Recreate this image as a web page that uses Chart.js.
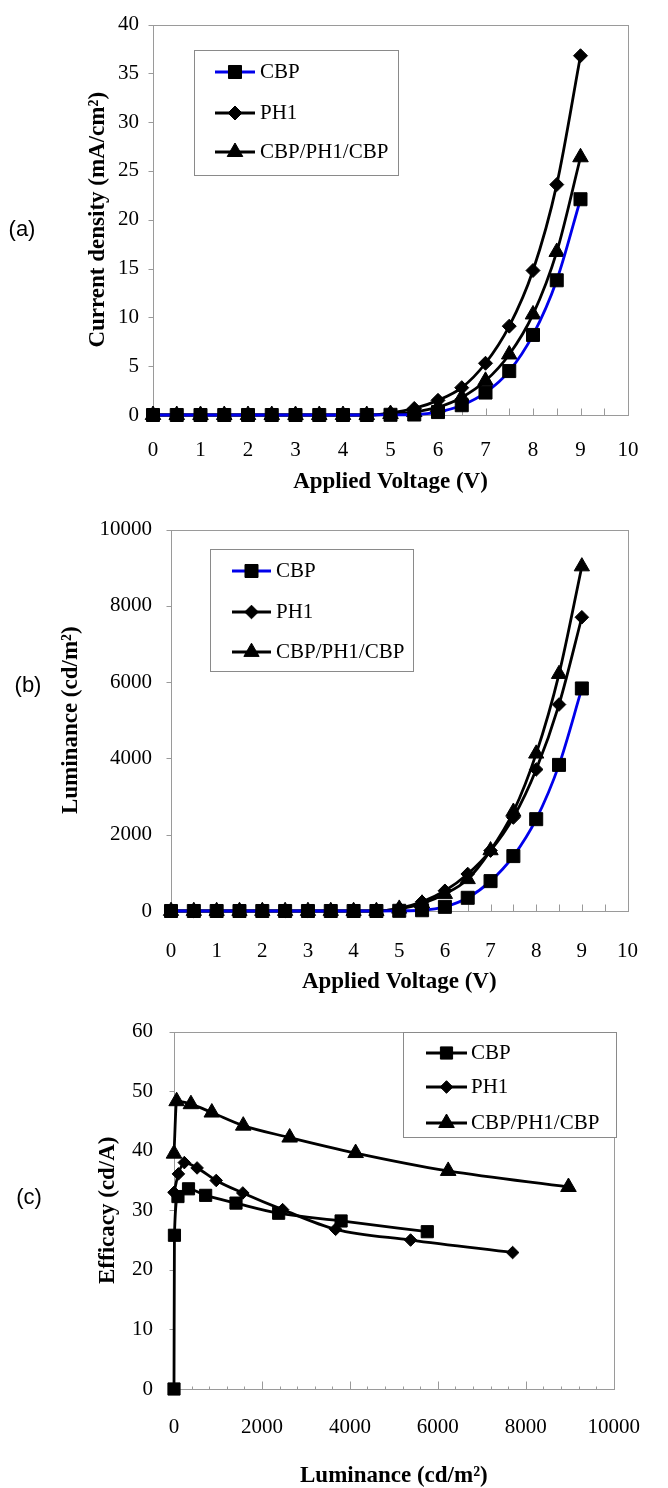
<!DOCTYPE html>
<html lang="en">
<head>
<meta charset="UTF-8">
<title>CBP / PH1 device characteristics</title>
<script src="https://cdn.jsdelivr.net/npm/chart.js@4.4.0/dist/chart.umd.min.js"></script>
<style>
  body { margin: 0; background: #fff; }
  #page { position: relative; width: 668px; height: 1488px; overflow: hidden; background: #fff; }
  .panel { position: absolute; left: 0; }
  .tag { position: absolute; font-family: 'Liberation Sans', Arial, sans-serif; font-size: 22px; color: #000;
         transform: translate(-50%, -50%); }
</style>
</head>
<body>
<div id="page">
  <canvas class="panel" id="chartA" width="668" height="500" style="top:0"></canvas>
  <canvas class="panel" id="chartB" width="668" height="500" style="top:500px"></canvas>
  <canvas class="panel" id="chartC" width="668" height="488" style="top:1000px"></canvas>
  <div class="tag" style="left:22px;top:229px">(a)</div>
  <div class="tag" style="left:28px;top:685px">(b)</div>
  <div class="tag" style="left:29px;top:1197px">(c)</div>
</div>

<script>
// applied voltage (V), shared by panels (a) and (b)
const voltage = [0, 0.5, 1, 1.5, 2, 2.5, 3, 3.5, 4, 4.5, 5, 5.5, 6, 6.5, 7, 7.5, 8, 8.5, 9];

// (a) current density, mA/cm2
const jCBP    = [0, 0, 0, 0, 0, 0, 0, 0, 0, 0, 0.02, 0.05, 0.3, 1.0, 2.3, 4.5, 8.2, 13.8, 22.1];
const jPH1    = [0, 0, 0, 0, 0, 0, 0, 0, 0, 0, 0.2, 0.67, 1.5, 2.8, 5.3, 9.1, 14.8, 23.6, 36.8];
const jStack  = [0, 0, 0, 0, 0, 0, 0, 0, 0, 0, 0.1, 0.3, 0.8, 1.8, 3.5, 6.2, 10.3, 16.7, 26.4];

// (b) luminance, cd/m2
const lCBP    = [0, 0, 0, 0, 0, 0, 0, 0, 0, 0, 5, 20, 109, 346, 783, 1439, 2407, 3830, 5833];
const lPH1    = [0, 0, 0, 0, 0, 0, 0, 0, 0, 0, 70, 240, 530, 970, 1583, 2450, 3710, 5412, 7700];
const lStack  = [0, 0, 0, 0, 0, 0, 0, 0, 0, 0, 60, 195, 446, 833, 1590, 2600, 4124, 6211, 9032];

// (c) efficacy (cd/A) against luminance (cd/m2)
const effCBPLum   = [0, 10, 90, 330, 720, 1410, 2380, 3800, 5760];
const effCBP      = [0, 25.8, 32.3, 33.6, 32.5, 31.2, 29.5, 28.2, 26.4];
const effPH1Lum   = [0, 100, 235, 525, 960, 1565, 2470, 3675, 5380, 7700];
const effPH1      = [33.0, 36.1, 38.0, 37.1, 35.0, 32.9, 30.1, 26.8, 25.0, 22.9];
const effStackLum = [0, 60, 385, 860, 1575, 2630, 4130, 6235, 8970];
const effStack    = [39.5, 48.3, 47.8, 46.4, 44.2, 42.2, 39.6, 36.6, 33.9];

const names = ['CBP', 'PH1', 'CBP/PH1/CBP'];

const SERIF = "'Liberation Serif', 'Times New Roman', serif";
const tickFont = { family: SERIF, size: 21, lineHeight: 1 };
const titleFont = { family: SERIF, size: 23, weight: 'bold', lineHeight: 1 };
const FRAME = '#9a9a9a';

function zip(xs, ys) {
  return xs.map((x, i) => ({ x: x, y: ys[i] }));
}

function series(label, data, style, radius, color) {
  return {
    label: label,
    data: data,
    borderColor: color,
    borderWidth: 2.8,
    pointStyle: style,
    pointRadius: radius,
    pointBackgroundColor: '#000',
    pointBorderColor: '#000',
    pointBorderWidth: 1,
    pointHoverRadius: radius,
    tension: 0.4,
    cubicInterpolationMode: 'monotone',
    fill: false,
    clip: false
  };
}

// fallback in case helpers are not exposed by the build
function marker(ctx, style, r, x, y) {
  if (Chart.helpers && Chart.helpers.drawPoint) {
    Chart.helpers.drawPoint(ctx, { pointStyle: style, radius: r, borderWidth: 1, rotation: 0 }, x, y);
    return;
  }
  ctx.beginPath();
  if (style === 'rect') {
    const s = r * Math.SQRT1_2;
    ctx.rect(x - s, y - s, 2 * s, 2 * s);
  } else if (style === 'rectRot') {
    ctx.moveTo(x, y - r); ctx.lineTo(x + r, y); ctx.lineTo(x, y + r); ctx.lineTo(x - r, y);
  } else {
    ctx.moveTo(x, y - r);
    ctx.lineTo(x + r * 0.866, y + r / 2);
    ctx.lineTo(x - r * 0.866, y + r / 2);
  }
  ctx.closePath();
  ctx.fill();
  ctx.stroke();
}

// plot frame, outward y ticks, inward x ticks
const framePlugin = {
  id: 'frame',
  beforeDatasetsDraw(chart, args, o) {
    const { ctx, chartArea: a, scales } = chart;
    ctx.save();
    ctx.strokeStyle = FRAME;
    ctx.lineWidth = 1;
    const L = Math.round(a.left) + 0.5, R = Math.round(a.right) + 0.5;
    const T = Math.round(a.top) + 0.5, B = Math.round(a.bottom) + 0.5;
    ctx.strokeRect(L, T, R - L, B - T);
    ctx.beginPath();
    scales.y.ticks.forEach(t => {
      const py = Math.round(scales.y.getPixelForValue(t.value)) + 0.5;
      ctx.moveTo(L - 5, py); ctx.lineTo(L, py);
    });
    const n = Math.round((o.xMax - o.xMin) / o.minorStep);
    const every = Math.round(o.majorStep / o.minorStep);
    for (let i = 1; i < n; i++) {
      const px = Math.round(scales.x.getPixelForValue(o.xMin + i * o.minorStep)) + 0.5;
      const len = i % every === 0 ? o.majorLen : o.minorLen;
      ctx.moveTo(px, B); ctx.lineTo(px, B - len);
    }
    ctx.stroke();
    ctx.restore();
  }
};

// boxed legend inside the plot
const legendPlugin = {
  id: 'boxLegend',
  afterDatasetsDraw(chart, args, o) {
    const ctx = chart.ctx;
    ctx.save();
    ctx.fillStyle = '#fff';
    ctx.fillRect(o.x1, o.y1, o.x2 - o.x1, o.y2 - o.y1);
    ctx.strokeStyle = '#8a8a8a';
    ctx.lineWidth = 1;
    ctx.strokeRect(o.x1 + 0.5, o.y1 + 0.5, o.x2 - o.x1, o.y2 - o.y1);
    chart.data.datasets.forEach((ds, i) => {
      const y = o.rows[i];
      ctx.strokeStyle = ds.borderColor;
      ctx.lineWidth = ds.borderWidth;
      ctx.beginPath();
      ctx.moveTo(o.lineFrom, y); ctx.lineTo(o.lineTo, y);
      ctx.stroke();
      ctx.fillStyle = '#000';
      ctx.strokeStyle = '#000';
      ctx.lineWidth = 1;
      marker(ctx, ds.pointStyle, ds.pointRadius, (o.lineFrom + o.lineTo) / 2, y);
      ctx.font = '21px ' + SERIF;
      ctx.textBaseline = 'middle';
      ctx.textAlign = 'left';
      ctx.fillText(ds.label, o.textX, y);
    });
    ctx.restore();
  }
};

function makeChart(id, datasets, c) {
  return new Chart(document.getElementById(id), {
    type: 'line',
    data: { datasets: datasets },
    plugins: [framePlugin, legendPlugin],
    options: {
      responsive: false,
      animation: false,
      events: [],
      layout: { padding: { top: c.top, right: c.right, left: 0, bottom: 0 } },
      scales: {
        x: {
          type: 'linear', min: c.xMin, max: c.xMax,
          grid: { display: false, drawTicks: false },
          border: { display: false },
          ticks: { stepSize: c.xStep, padding: c.xPad, color: '#000', font: tickFont,
                   maxRotation: 0, autoSkip: false, callback: v => String(v) },
          title: { display: true, text: c.xTitle, color: '#000', font: titleFont,
                   padding: { top: 0, bottom: c.xTitlePad } },
          afterFit: s => { s.height = c.xHeight; }
        },
        y: {
          min: c.yMin, max: c.yMax,
          grid: { display: false, drawTicks: false },
          border: { display: false },
          ticks: { stepSize: c.yStep, padding: c.yPad, color: '#000', font: tickFont,
                   callback: v => String(v) },
          title: { display: true, text: c.yTitle, color: '#000', font: titleFont,
                   padding: { top: c.yTitlePad, bottom: 0 } },
          afterFit: s => { s.width = c.yWidth; }
        }
      },
      plugins: {
        legend: { display: false },
        tooltip: { enabled: false },
        frame: c.frame,
        boxLegend: c.legend
      }
    }
  });
}

const BLUE = 'rgb(0, 0, 235)';

makeChart('chartA', [
  series(names[0], zip(voltage, jCBP), 'rect', 9.2, BLUE),
  series(names[1], zip(voltage, jPH1), 'rectRot', 7, '#000'),
  series(names[2], zip(voltage, jStack), 'triangle', 9, '#000')
], {
  top: 16, right: 40, yWidth: 153, xHeight: 85,
  xMin: 0, xMax: 10, xStep: 1, yMin: 0, yMax: 40, yStep: 5,
  xPad: 24.5, yPad: 14, xTitlePad: 6.5, yTitlePad: 86.5,
  xTitle: 'Applied Voltage (V)', yTitle: 'Current density (mA/cm\u00b2)',
  frame: { xMin: 0, xMax: 10, minorStep: 0.5, majorStep: 1, minorLen: 7, majorLen: 7 },
  legend: { x1: 194, y1: 50, x2: 398, y2: 175, rows: [72, 113, 152], lineFrom: 215, lineTo: 255, textX: 260 }
});

makeChart('chartB', [
  series(names[0], zip(voltage, lCBP), 'rect', 9.2, BLUE),
  series(names[1], zip(voltage, lPH1), 'rectRot', 6.8, '#000'),
  series(names[2], zip(voltage, lStack), 'triangle', 8.8, '#000')
], {
  top: 15, right: 31, yWidth: 171, xHeight: 89,
  xMin: 0, xMax: 10, xStep: 1, yMin: 0, yMax: 10000, yStep: 2000,
  xPad: 30, yPad: 19, xTitlePad: 6.5, yTitlePad: 59.5,
  xTitle: 'Applied Voltage (V)', yTitle: 'Luminance (cd/m\u00b2)',
  frame: { xMin: 0, xMax: 10, minorStep: 0.5, majorStep: 1, minorLen: 7, majorLen: 7 },
  legend: { x1: 210, y1: 49, x2: 413, y2: 171, rows: [71, 112, 152], lineFrom: 232, lineTo: 271, textX: 276 }
});

makeChart('chartC', [
  series(names[0], zip(effCBPLum, effCBP), 'rect', 8.6, '#000'),
  series(names[1], zip(effPH1Lum, effPH1), 'rectRot', 6.3, '#000'),
  series(names[2], zip(effStackLum, effStack), 'triangle', 9, '#000')
], {
  top: 11, right: 31, yWidth: 174, xHeight: 99,
  xMin: 0, xMax: 10000, xStep: 2000, yMin: 0, yMax: 60, yStep: 10,
  xPad: 28, yPad: 21, xTitlePad: 0, yTitlePad: 96.5,
  xTitle: 'Luminance (cd/m\u00b2)', yTitle: 'Efficacy (cd/A)',
  frame: { xMin: 0, xMax: 10000, minorStep: 400, majorStep: 2000, minorLen: 3, majorLen: 8 },
  legend: { x1: 403, y1: 32, x2: 616, y2: 137, rows: [53, 87, 123], lineFrom: 426, lineTo: 467, textX: 471 }
});
</script>
</body>
</html>
